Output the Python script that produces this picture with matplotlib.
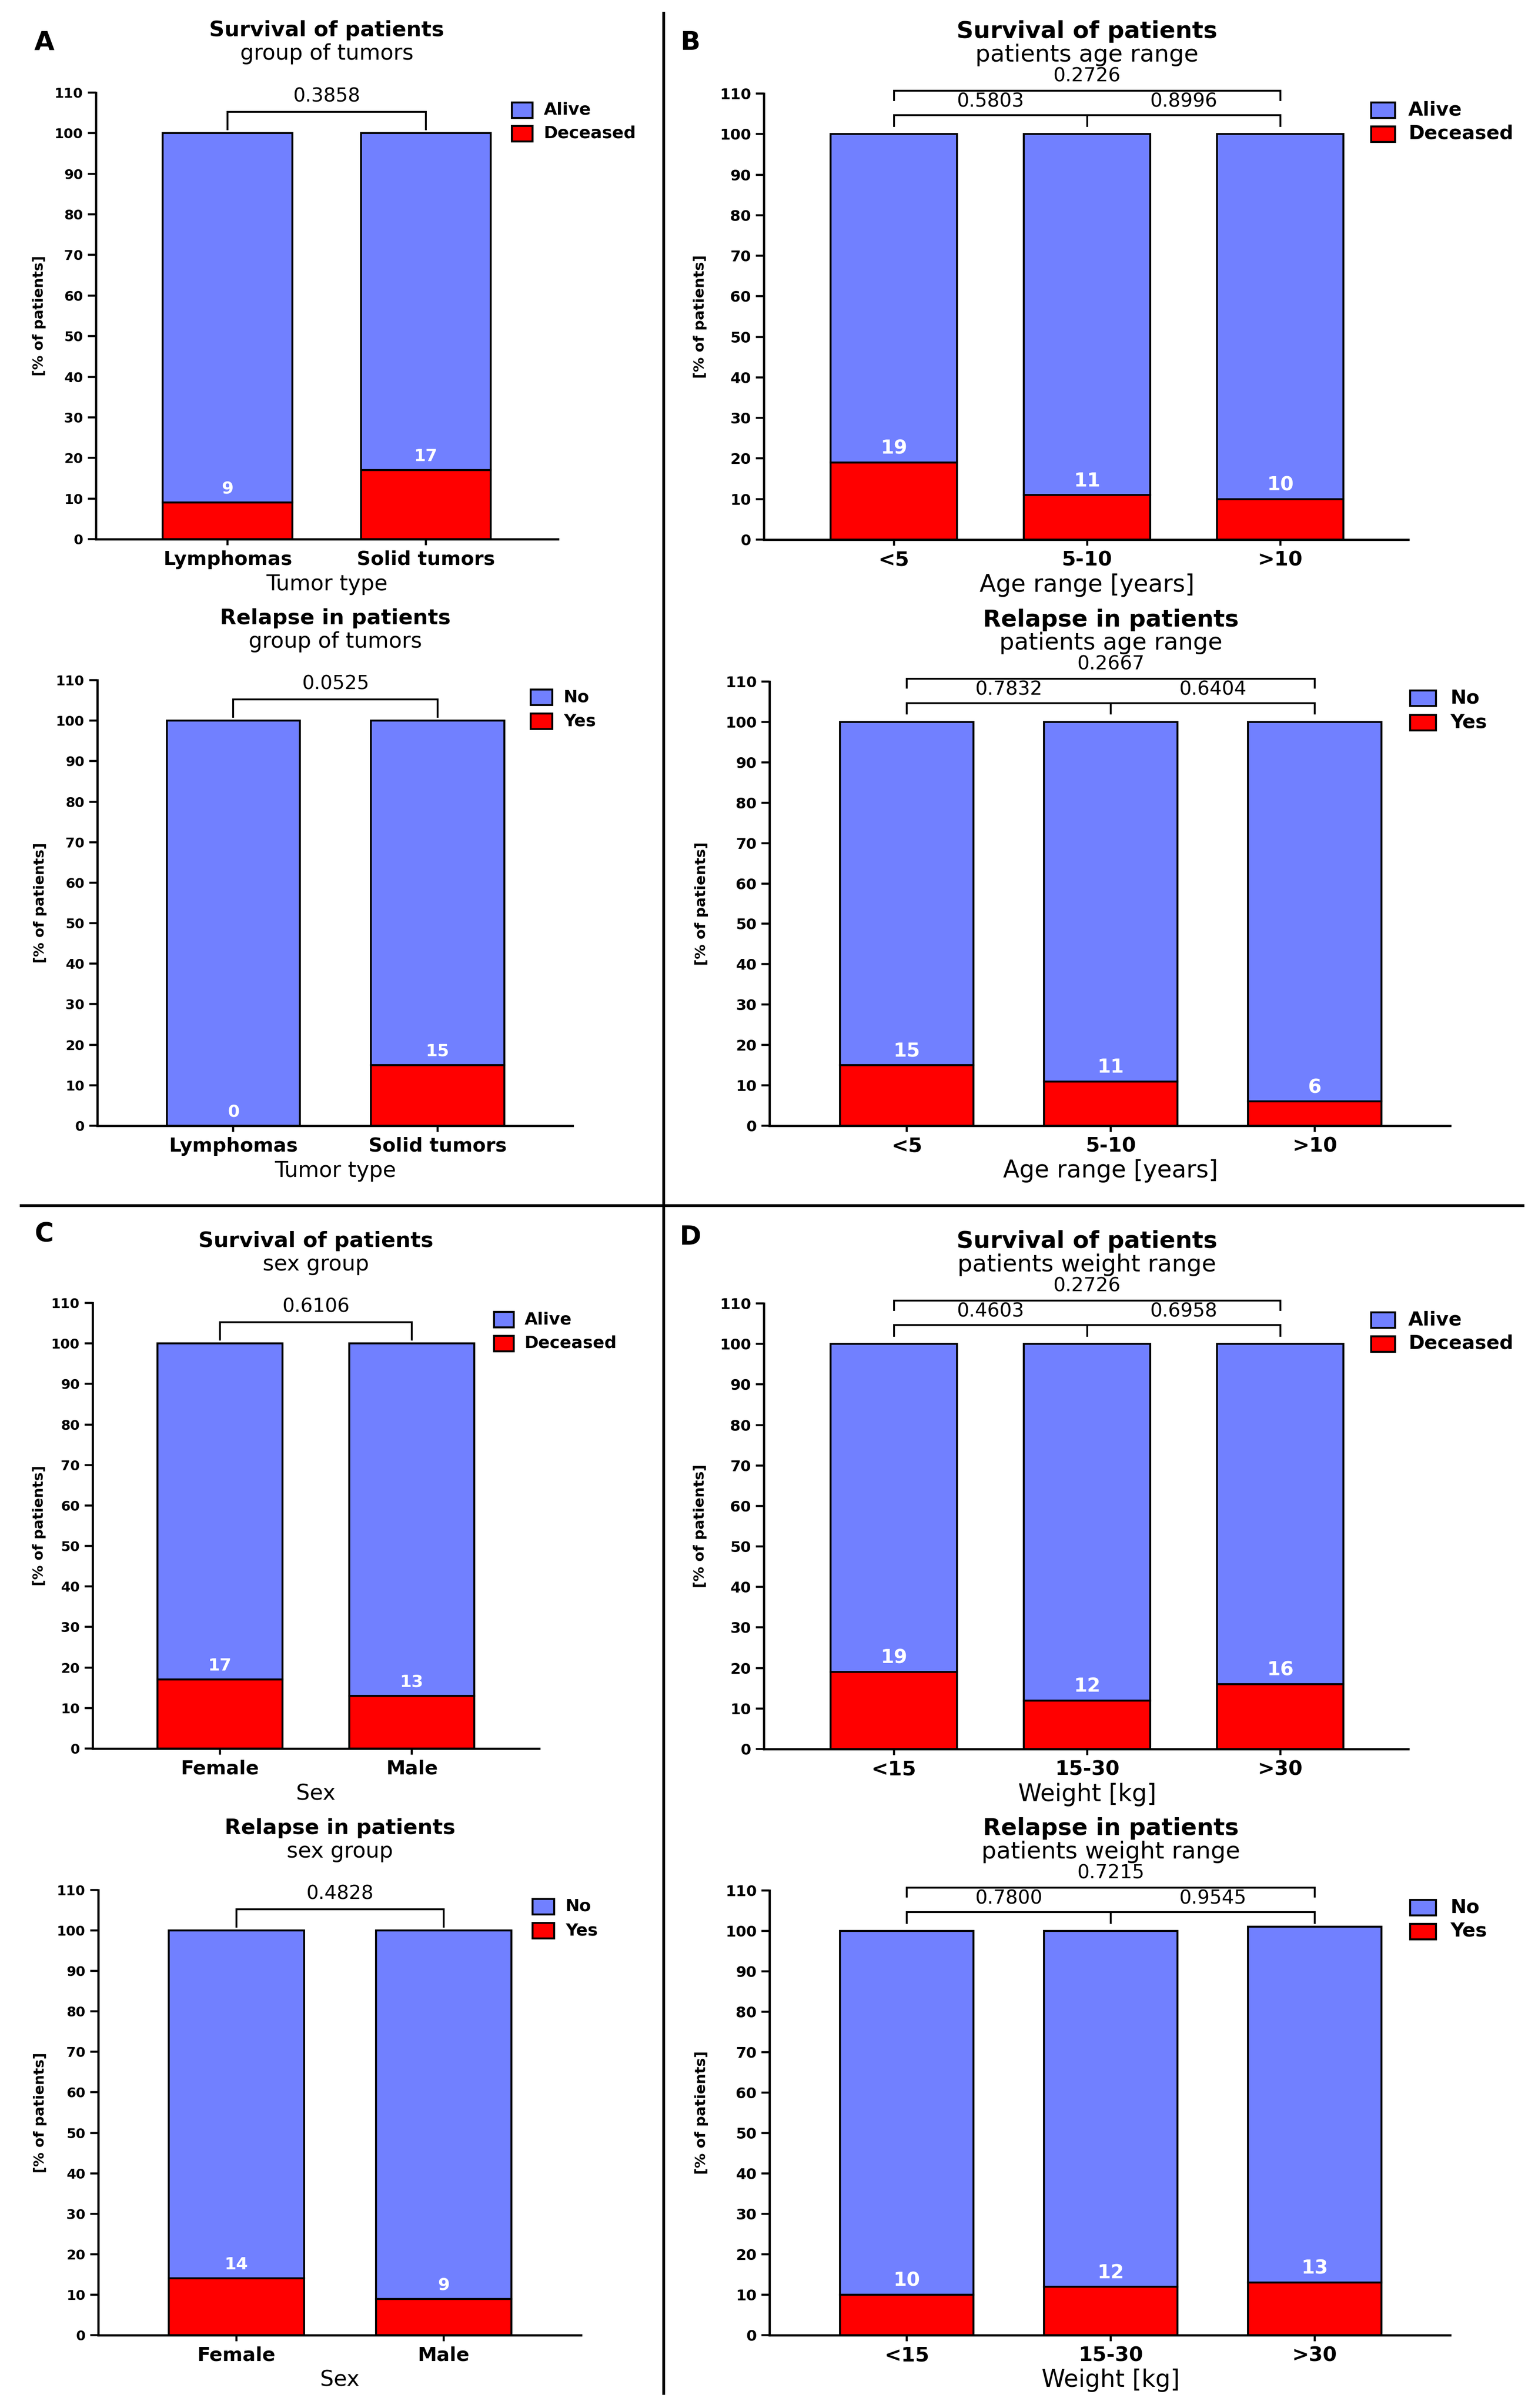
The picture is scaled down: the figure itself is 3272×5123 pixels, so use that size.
import matplotlib
matplotlib.use("Agg")
import matplotlib.pyplot as plt
from matplotlib.patches import Rectangle
from matplotlib.lines import Line2D

# ---------------- data ----------------
tumor_types = ["Lymphomas", "Solid tumors"]
surv_tumor_deceased = [9, 17]
surv_tumor_alive = [91, 83]
relapse_tumor_yes = [0, 15]
relapse_tumor_no = [100, 85]
p_surv_tumor = ["0.3858"]
p_relapse_tumor = ["0.0525"]

age_groups = ["<5", "5-10", ">10"]
surv_age_deceased = [19, 11, 10]
surv_age_alive = [81, 89, 90]
relapse_age_yes = [15, 11, 6]
relapse_age_no = [85, 89, 94]
p_surv_age = ["0.5803", "0.8996", "0.2726"]
p_relapse_age = ["0.7832", "0.6404", "0.2667"]

sex_groups = ["Female", "Male"]
surv_sex_deceased = [17, 13]
surv_sex_alive = [83, 87]
relapse_sex_yes = [14, 9]
relapse_sex_no = [86, 91]
p_surv_sex = ["0.6106"]
p_relapse_sex = ["0.4828"]

weight_groups = ["<15", "15-30", ">30"]
surv_weight_deceased = [19, 12, 16]
surv_weight_alive = [81, 88, 84]
relapse_weight_yes = [10, 12, 13]
relapse_weight_no = [90, 88, 88]
p_surv_weight = ["0.4603", "0.6958", "0.2726"]
p_relapse_weight = ["0.7800", "0.9545", "0.7215"]

# ---------------- style ----------------
W, H = 3273, 5123
BLUE = "#7180FF"
RED = "#FF0000"
fig = plt.figure(figsize=(W / 100, H / 100), dpi=100)
plt.rcParams["font.family"] = ["DejaVu Sans"]

SMALL = dict(title=32.5, sub=33, ytick=21, xtick=29.5, xlabel=33, ylabel=22,
             legend=26, pval=29.5, bar=26, xpad=7.5)
LARGE = dict(title=36, sub=36, ytick=23, xtick=31, xlabel=36.5, ylabel=22.5,
             legend=29.5, pval=29.5, bar=29.5, xpad=7)


def fxp(px):
    return px / W


def fyp(py):
    return 1 - py / H


def panel(L, R, Y0, Y110, xlim, cats, red, blue, labels, title, sub, xlabel,
          pvals, leg, ylab_x, sz):
    ax = fig.add_axes([fxp(L), fyp(Y0), (R - L) / W, (Y0 - Y110) / H])
    n = len(cats)
    xs = list(range(n))
    bw = 0.653
    ax.bar(xs, red, width=bw, color=RED, edgecolor="black", linewidth=3.0, zorder=3)
    ax.bar(xs, blue, bottom=red, width=bw, color=BLUE, edgecolor="black",
           linewidth=3.0, zorder=3)
    for x, v in zip(xs, red):
        ax.text(x, v + 3.4, str(v), color="white", fontweight="bold",
                fontsize=sz["bar"], ha="center", va="center", zorder=5)
    ax.set_xlim(*xlim)
    ax.set_ylim(0, 110)
    for s in ("top", "right"):
        ax.spines[s].set_visible(False)
    for s in ("left", "bottom"):
        ax.spines[s].set_linewidth(3.4)
        ax.spines[s].set_capstyle("projecting")
    ax.set_yticks(range(0, 111, 10), [str(v) for v in range(0, 111, 10)],
                  fontweight="bold", fontsize=sz["ytick"])
    ax.set_xticks(xs, cats, fontweight="bold", fontsize=sz["xtick"])
    ax.tick_params(axis="y", length=12, width=3.2, pad=7.5)
    ax.tick_params(axis="x", length=9.5, width=3.2, pad=sz["xpad"])
    ax.set_xlabel(xlabel, fontsize=sz["xlabel"])
    ax.xaxis.label.set_va("center")
    ax.xaxis.set_label_coords((n - 1) / 2, -11.2, transform=ax.transData)
    ax.set_ylabel("[% of patients]", fontweight="bold", fontsize=sz["ylabel"])
    ax.yaxis.label.set_va("center")
    ax.yaxis.set_label_coords(-(L - ylab_x) / (R - L), 0.5)
    mid = (n - 1) / 2
    ax.text(mid, 125.3, title, fontweight="bold", fontsize=sz["title"],
            ha="center", va="center", clip_on=False)
    ax.text(mid, 119.5, sub, fontsize=sz["sub"], ha="center", va="center",
            clip_on=False)
    lk = dict(color="black", lw=2.8, clip_on=False, solid_joinstyle="miter",
              solid_capstyle="butt")
    if n == 2:
        ax.plot([0, 0, 1, 1], [100.7, 105.2, 105.2, 100.7], **lk)
        ax.text(0.5, 109.0, pvals[0], fontsize=sz["pval"], ha="center",
                va="center", clip_on=False)
    else:
        ax.plot([0, 0, 2, 2], [101.8, 104.7, 104.7, 101.8], **lk)
        ax.plot([1, 1], [104.7, 101.8], **lk)
        ax.plot([0, 0, 2, 2], [108.2, 110.7, 110.7, 108.2], **lk)
        ax.text(0.5, 108.0, pvals[0], fontsize=sz["pval"], ha="center",
                va="center", clip_on=False)
        ax.text(1.5, 108.0, pvals[1], fontsize=sz["pval"], ha="center",
                va="center", clip_on=False)
        ax.text(1.0, 114.2, pvals[2], fontsize=sz["pval"], ha="center",
                va="center", clip_on=False)
    # legend
    sq0, sq1, yb, yr, tx = leg
    hh = 33
    for yc, col, lab in ((yb, BLUE, labels[0]), (yr, RED, labels[1])):
        fig.add_artist(Rectangle((fxp(sq0), fyp(yc + hh / 2)), (sq1 - sq0) / W,
                                 hh / H, transform=fig.transFigure,
                                 facecolor=col, edgecolor="black", linewidth=3.0))
        fig.text(fxp(tx), fyp(yc), lab, fontweight="bold", fontsize=sz["legend"],
                 ha="left", va="center")
    return ax


# Panel A
panel(204, 1187, 1147, 197, (-0.664, 1.666), tumor_types, surv_tumor_deceased,
      surv_tumor_alive, ("Alive", "Deceased"), "Survival of patients",
      "group of tumors", "Tumor type", p_surv_tumor,
      (1089, 1133, 234, 284, 1157), 83, SMALL)
panel(207, 1218, 2395, 1447, (-0.666, 1.66), tumor_types, relapse_tumor_yes,
      relapse_tumor_no, ("No", "Yes"), "Relapse in patients",
      "group of tumors", "Tumor type", p_relapse_tumor,
      (1129, 1175, 1483, 1534, 1199), 85, SMALL)
# Panel B
panel(1625, 2996, 1148, 199, (-0.673, 2.663), age_groups, surv_age_deceased,
      surv_age_alive, ("Alive", "Deceased"), "Survival of patients",
      "patients age range", "Age range [years]", p_surv_age,
      (2917, 2968, 234, 285, 2996), 1490, LARGE)
panel(1637, 3085, 2395, 1450, (-0.673, 2.664), age_groups, relapse_age_yes,
      relapse_age_no, ("No", "Yes"), "Relapse in patients",
      "patients age range", "Age range [years]", p_relapse_age,
      (3000, 3055, 1485, 1537, 3085), 1493, LARGE)
# Panel C
panel(197, 1147, 3720, 2772, (-0.664, 1.664), sex_groups, surv_sex_deceased,
      surv_sex_alive, ("Alive", "Deceased"), "Survival of patients",
      "sex group", "Sex", p_surv_sex,
      (1051, 1093, 2807, 2858, 1116), 83, SMALL)
panel(209, 1236, 4968, 4021, (-0.666, 1.663), sex_groups, relapse_sex_yes,
      relapse_sex_no, ("No", "Yes"), "Relapse in patients",
      "sex group", "Sex", p_relapse_sex,
      (1133, 1179, 4056, 4107, 1203), 86, SMALL)
# Panel D
panel(1625, 2996, 3721, 2773, (-0.673, 2.663), weight_groups, surv_weight_deceased,
      surv_weight_alive, ("Alive", "Deceased"), "Survival of patients",
      "patients weight range", "Weight [kg]", p_surv_weight,
      (2917, 2968, 2808, 2859, 2996), 1490, LARGE)
panel(1637, 3085, 4968, 4022, (-0.673, 2.664), weight_groups, relapse_weight_yes,
      relapse_weight_no, ("No", "Yes"), "Relapse in patients",
      "patients weight range", "Weight [kg]", p_relapse_weight,
      (3000, 3055, 4058, 4109, 3085), 1493, LARGE)

# dividers
fig.add_artist(Line2D([fxp(1412), fxp(1412)], [fyp(28), fyp(5092)],
                      transform=fig.transFigure, color="black", lw=4.3))
fig.add_artist(Line2D([fxp(45), fxp(3240)], [fyp(2565), fyp(2565)],
                      transform=fig.transFigure, color="black", lw=4.3))

# panel letters
for letter, x, y in (("A", 94, 90), ("B", 1469, 91), ("C", 94, 2625), ("D", 1469, 2632)):
    fig.text(fxp(x), fyp(y), letter, fontfamily=["Liberation Sans Narrow", "DejaVu Sans"],
             fontweight="bold", fontsize=40, ha="center", va="center")

fig.savefig("out.png", dpi=100, facecolor="white")
